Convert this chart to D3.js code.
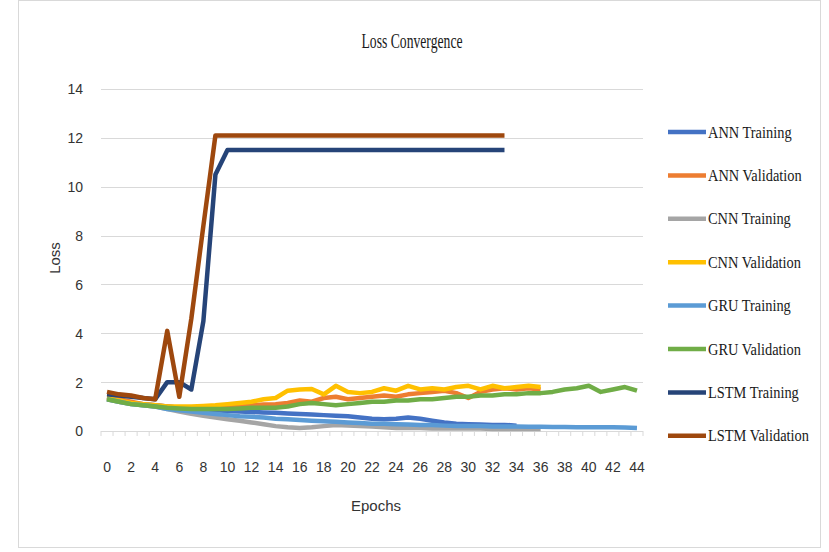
<!DOCTYPE html>
<html>
<head>
<meta charset="utf-8">
<script src="https://cdn.jsdelivr.net/npm/d3@7"></script>
<style>
  html, body { margin: 0; padding: 0; background: #fff; }
  svg { display: block; }
</style>
</head>
<body>
<svg id="chart" width="829" height="552"></svg>
<script>
// Epoch categories (0..44) and y-axis ticks
const epochs = d3.range(0, 45);
const yTicks = [0, 2, 4, 6, 8, 10, 12, 14];
const seriesNames = ["ANN Training", "ANN Validation", "CNN Training", "CNN Validation",
                     "GRU Training", "GRU Validation", "LSTM Training", "LSTM Validation"];
const seriesColors = ["#4472C4", "#ED7D31", "#A5A5A5", "#FFC000",
                      "#5B9BD5", "#70AD47", "#264478", "#9E480E"];

// Loss per epoch for each model
const annTraining = [1.35, 1.25, 1.15, 1.1, 1.05, 1.0, 0.95, 0.9, 0.88, 0.85, 0.82, 0.8, 0.78, 0.76, 0.75,
  0.72, 0.7, 0.68, 0.65, 0.62, 0.6, 0.55, 0.5, 0.48, 0.5, 0.55, 0.5, 0.42, 0.35, 0.3, 0.28, 0.27, 0.25, 0.25, 0.22];
const annValidation = [1.4, 1.3, 1.2, 1.1, 1.05, 1.0, 0.95, 0.95, 0.95, 0.98, 1.0, 1.02, 1.05, 1.08, 1.1,
  1.15, 1.25, 1.2, 1.35, 1.4, 1.3, 1.35, 1.4, 1.45, 1.4, 1.5, 1.55, 1.6, 1.65, 1.55, 1.35, 1.6, 1.7, 1.75, 1.7, 1.75, 1.7];
const cnnTraining = [1.3, 1.2, 1.1, 1.05, 1.0, 0.9, 0.8, 0.7, 0.62, 0.55, 0.48, 0.42, 0.35, 0.28, 0.2,
  0.15, 0.12, 0.15, 0.2, 0.25, 0.22, 0.2, 0.18, 0.15, 0.12, 0.12, 0.12, 0.1, 0.1, 0.1, 0.1, 0.1, 0.08, 0.08, 0.08, 0.08, 0.08];
const cnnValidation = [1.35, 1.25, 1.15, 1.1, 1.05, 1.0, 1.0, 1.0, 1.02, 1.05, 1.1, 1.15, 1.2, 1.3, 1.35,
  1.65, 1.7, 1.72, 1.5, 1.85, 1.6, 1.55, 1.6, 1.75, 1.65, 1.85, 1.7, 1.75, 1.7, 1.8, 1.85, 1.7, 1.85, 1.75, 1.8, 1.85, 1.8];
const gruTraining = [1.3, 1.2, 1.1, 1.05, 1.0, 0.9, 0.85, 0.8, 0.75, 0.7, 0.65, 0.6, 0.58, 0.55, 0.5,
  0.48, 0.45, 0.42, 0.4, 0.38, 0.35, 0.33, 0.3, 0.3, 0.28, 0.27, 0.25, 0.25, 0.22, 0.2, 0.2, 0.2, 0.18, 0.18, 0.18,
  0.17, 0.17, 0.16, 0.16, 0.15, 0.15, 0.15, 0.15, 0.14, 0.12];
const gruValidation = [1.3, 1.2, 1.1, 1.05, 1.0, 0.95, 0.92, 0.9, 0.9, 0.9, 0.9, 0.92, 0.95, 0.95, 0.95,
  1.0, 1.1, 1.15, 1.1, 1.05, 1.1, 1.15, 1.2, 1.2, 1.25, 1.25, 1.3, 1.3, 1.35, 1.4, 1.4, 1.45, 1.45, 1.5, 1.5,
  1.55, 1.55, 1.6, 1.7, 1.75, 1.85, 1.6, 1.7, 1.8, 1.65];
const lstmTraining = [1.5, 1.45, 1.4, 1.35, 1.3, 2.0, 2.0, 1.7, 4.5, 10.5, 11.5, 11.5, 11.5, 11.5, 11.5,
  11.5, 11.5, 11.5, 11.5, 11.5, 11.5, 11.5, 11.5, 11.5, 11.5, 11.5, 11.5, 11.5, 11.5, 11.5, 11.5, 11.5, 11.5, 11.5];
const lstmValidation = [1.6, 1.5, 1.45, 1.35, 1.3, 4.1, 1.4, 4.6, 8.4, 12.1, 12.1, 12.1, 12.1, 12.1, 12.1,
  12.1, 12.1, 12.1, 12.1, 12.1, 12.1, 12.1, 12.1, 12.1, 12.1, 12.1, 12.1, 12.1, 12.1, 12.1, 12.1, 12.1, 12.1, 12.1];

const seriesValues = [annTraining, annValidation, cnnTraining, cnnValidation,
                      gruTraining, gruValidation, lstmTraining, lstmValidation];

const svg = d3.select("#chart");

// Outer chart frame
svg.append("rect")
  .attr("x", 18.5).attr("y", 0.5).attr("width", 802).attr("height", 547)
  .attr("fill", "#fff").attr("stroke", "#d9d9d9");

const plot = { left: 101, right: 643, top: 89, bottom: 431 };

const x = d3.scaleBand().domain(epochs).range([plot.left, plot.right]);
const xc = d => x(d) + x.bandwidth() / 2;
const y = d3.scaleLinear().domain([0, 14]).range([plot.bottom, plot.top]);

// Horizontal gridlines
svg.append("g")
  .selectAll("line")
  .data(yTicks)
  .join("line")
  .attr("x1", plot.left).attr("x2", plot.right)
  .attr("y1", d => Math.round(y(d)) + 0.5).attr("y2", d => Math.round(y(d)) + 0.5)
  .attr("stroke", "#d9d9d9").attr("stroke-width", 1);

// Y axis labels
const yAxis = d3.axisLeft(y).tickValues(yTicks).tickSize(0).tickPadding(0);
svg.append("g")
  .attr("transform", `translate(${plot.left - 18},0)`)
  .call(yAxis)
  .call(g => g.select(".domain").remove())
  .selectAll("text")
  .attr("font-family", "Liberation Sans, Arial, sans-serif")
  .attr("font-size", 14)
  .attr("fill", "#333")
  .attr("dy", "0.35em");

// X axis with labels every 2 epochs
const xAxis = d3.axisBottom(x)
  .tickValues(epochs.filter(e => e % 2 === 0))
  .tickSize(0).tickPadding(0);
const gx = svg.append("g")
  .attr("transform", `translate(0,${plot.bottom + 36})`)
  .call(xAxis);
gx.select(".domain").remove();
gx.selectAll("text")
  .attr("font-family", "Liberation Sans, Arial, sans-serif")
  .attr("font-size", 14)
  .attr("fill", "#333")
  .attr("dy", "0.35em");

// Category tick marks below the zero line
svg.append("g")
  .selectAll("line")
  .data(d3.range(0, 46))
  .join("line")
  .attr("x1", d => plot.left + d * x.step()).attr("x2", d => plot.left + d * x.step())
  .attr("y1", plot.bottom).attr("y2", plot.bottom + 5)
  .attr("stroke", "#d9d9d9");

// Series lines
const line = d3.line()
  .x((d, i) => xc(epochs[i]))
  .y(d => y(d))
  .curve(d3.curveLinear);

svg.append("g")
  .selectAll("path")
  .data(seriesValues)
  .join("path")
  .attr("d", d => line(d))
  .attr("fill", "none")
  .attr("stroke", (d, i) => seriesColors[i])
  .attr("stroke-width", 4.5)
  .attr("stroke-linejoin", "round")
  .attr("stroke-linecap", "butt");

// Title
svg.append("text")
  .attr("x", 412).attr("y", 48)
  .attr("text-anchor", "middle")
  .attr("font-family", "Liberation Serif, Times New Roman, serif")
  .attr("font-size", 21)
  .attr("fill", "#1a1a1a")
  .attr("textLength", 101)
  .attr("lengthAdjust", "spacingAndGlyphs")
  .text("Loss Convergence");

// Axis titles
svg.append("text")
  .attr("x", 376).attr("y", 511)
  .attr("text-anchor", "middle")
  .attr("font-family", "Liberation Sans, Arial, sans-serif")
  .attr("font-size", 15)
  .attr("fill", "#333")
  .text("Epochs");

svg.append("text")
  .attr("transform", "translate(60,258) rotate(-90)")
  .attr("text-anchor", "middle")
  .attr("font-family", "Liberation Sans, Arial, sans-serif")
  .attr("font-size", 15)
  .attr("fill", "#333")
  .text("Loss");

// Legend
const legend = svg.append("g")
  .selectAll("g")
  .data(seriesNames)
  .join("g")
  .attr("transform", (d, i) => `translate(668,${132 + i * 43.4})`);

legend.append("line")
  .attr("x1", 0).attr("x2", 38)
  .attr("y1", 0).attr("y2", 0)
  .attr("stroke", (d, i) => seriesColors[i])
  .attr("stroke-width", 4.5);

legend.append("text")
  .attr("transform", "translate(40,0) scale(0.9,1)")
  .attr("dy", "0.35em")
  .attr("font-family", "Liberation Serif, Times New Roman, serif")
  .attr("font-size", 16)
  .attr("fill", "#1a1a1a")
  .text(d => d);
</script>
</body>
</html>
